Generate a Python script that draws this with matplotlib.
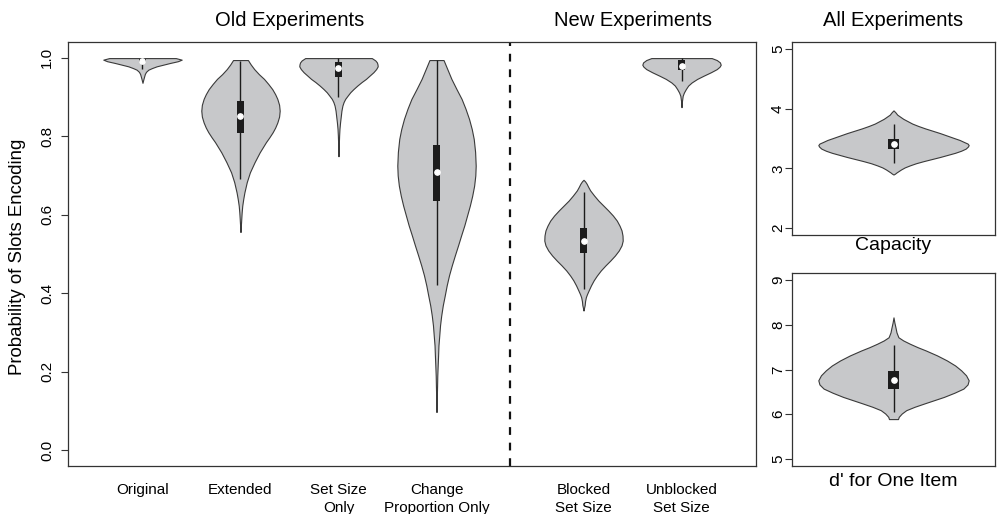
import matplotlib.pyplot as plt
import matplotlib.transforms as mtransforms

plt.rcParams['font.family'] = ['Liberation Sans', 'DejaVu Sans']

# ---- data -------------------------------------------------------------
labels = ['Original', 'Extended', 'Set Size\nOnly', 'Change\nProportion Only',
          'Blocked\nSet Size', 'Unblocked\nSet Size']

# violin outlines: y value and relative half-width (1 = widest)
orig_y = [0.999, 0.995, 0.991, 0.9865, 0.982, 0.978, 0.9735, 0.9695, 0.964, 0.9585, 0.946, 0.936]
orig_w = [0.85, 1.0, 0.90, 0.70, 0.52, 0.36, 0.24, 0.15, 0.09, 0.06, 0.025, 0.0]

ext_y = [0.994, 0.983, 0.971, 0.958, 0.946, 0.933, 0.920, 0.907, 0.895, 0.880, 0.865, 0.850,
         0.835, 0.822, 0.810, 0.797, 0.785, 0.772, 0.759, 0.734, 0.708, 0.683, 0.657,
         0.640, 0.623, 0.606, 0.590, 0.573, 0.556]
ext_w = [0.19, 0.26, 0.35, 0.47, 0.60, 0.71, 0.81, 0.885, 0.94, 0.985, 1.0, 0.985,
         0.94, 0.885, 0.82, 0.735, 0.65, 0.57, 0.49, 0.36, 0.24, 0.16, 0.10,
         0.07, 0.045, 0.03, 0.02, 0.01, 0.0]

ssz_y = [0.999, 0.993, 0.988, 0.983, 0.978, 0.971, 0.963, 0.955, 0.946, 0.938, 0.929,
         0.920, 0.912, 0.903, 0.895, 0.887, 0.878, 0.865, 0.852, 0.835, 0.819,
         0.802, 0.785, 0.767, 0.749]
ssz_w = [0.85, 0.94, 0.98, 0.995, 1.0, 0.96, 0.89, 0.80, 0.70, 0.59, 0.48,
         0.38, 0.30, 0.23, 0.17, 0.13, 0.10, 0.075, 0.06, 0.04, 0.025,
         0.016, 0.01, 0.005, 0.0]

chg_y = [0.994, 0.970, 0.946, 0.920, 0.895, 0.870, 0.844, 0.818, 0.793, 0.760, 0.725,
         0.700, 0.674, 0.648, 0.623, 0.598, 0.573, 0.548, 0.522, 0.497, 0.471,
         0.446, 0.420, 0.394, 0.369, 0.343, 0.318, 0.292, 0.267, 0.240, 0.216,
         0.190, 0.165, 0.130, 0.0975]
chg_w = [0.18, 0.28, 0.38, 0.51, 0.64, 0.74, 0.83, 0.90, 0.95, 0.985, 1.0,
         0.99, 0.96, 0.91, 0.85, 0.78, 0.71, 0.63, 0.55, 0.47, 0.39,
         0.32, 0.26, 0.21, 0.16, 0.12, 0.09, 0.07, 0.05, 0.04, 0.03,
         0.02, 0.015, 0.007, 0.0]

blk_y = [0.689, 0.685, 0.679, 0.671, 0.662, 0.649, 0.636, 0.624, 0.611, 0.598, 0.585,
         0.572, 0.560, 0.547, 0.534, 0.522, 0.509, 0.496, 0.483, 0.471, 0.458,
         0.445, 0.433, 0.420, 0.407, 0.398, 0.390, 0.380, 0.370, 0.362, 0.356]
blk_w = [0.0, 0.04, 0.08, 0.12, 0.17, 0.27, 0.38, 0.50, 0.63, 0.75, 0.85,
         0.92, 0.97, 0.995, 1.0, 0.97, 0.90, 0.80, 0.68, 0.56, 0.44,
         0.34, 0.26, 0.19, 0.13, 0.09, 0.06, 0.04, 0.03, 0.012, 0.0]

unb_y = [0.999, 0.994, 0.988, 0.982, 0.977, 0.971, 0.963, 0.954, 0.946, 0.937, 0.929,
         0.920, 0.911, 0.903, 0.890, 0.874]
unb_w = [0.77, 0.90, 0.98, 1.0, 0.97, 0.90, 0.75, 0.56, 0.40, 0.26, 0.17,
         0.11, 0.06, 0.03, 0.012, 0.0]

# box summaries: lower whisker, q1, median, q3, upper whisker
whisk_lo = [0.971, 0.690, 0.901, 0.420, 0.411, 0.941]
q1 = [0.989, 0.808, 0.952, 0.634, 0.502, 0.969]
medians = [0.992, 0.852, 0.974, 0.710, 0.533, 0.980]
q3 = [0.996, 0.889, 0.988, 0.778, 0.567, 0.995]
whisk_hi = [0.999, 0.992, 0.999, 0.994, 0.657, 0.999]

cap_y = [3.972, 3.94, 3.90, 3.865, 3.83, 3.79, 3.75, 3.71, 3.67, 3.63, 3.59, 3.55,
         3.51, 3.475, 3.44, 3.415, 3.39, 3.365, 3.33, 3.295, 3.26, 3.225, 3.19,
         3.155, 3.12, 3.085, 3.05, 3.015, 2.98, 2.955, 2.93, 2.91, 2.895]
cap_w = [0.0, 0.025, 0.05, 0.09, 0.13, 0.19, 0.25, 0.33, 0.42, 0.52, 0.62, 0.71,
         0.80, 0.88, 0.94, 0.985, 1.0, 0.99, 0.96, 0.90, 0.82, 0.72, 0.62,
         0.51, 0.40, 0.30, 0.22, 0.15, 0.10, 0.07, 0.04, 0.02, 0.0]
cap_box = [3.09, 3.32, 3.40, 3.487, 3.75]

dp_y = [8.167, 8.05, 7.945, 7.83, 7.722, 7.65, 7.575, 7.50, 7.426, 7.315, 7.203,
        7.09, 6.981, 6.87, 6.758, 6.665, 6.573, 6.48, 6.386, 6.313, 6.240,
        6.165, 6.090, 6.015, 5.941, 5.890]
dp_w = [0.0, 0.012, 0.026, 0.04, 0.065, 0.13, 0.22, 0.32, 0.43, 0.58, 0.71,
        0.82, 0.90, 0.965, 1.0, 0.985, 0.93, 0.81, 0.67, 0.54, 0.41,
        0.28, 0.17, 0.11, 0.07, 0.06]
dp_box = [6.05, 6.57, 6.76, 6.97, 7.54]

# ---- style --------------------------------------------------------------
fill_col = '#c7c8ca'
edge_col = '#3a3a3a'
box_col = '#1c1c1c'
frame_col = '#333333'


def draw_violins(ax, ys, ws, pos, boxes, bw):
    stats = []
    for y, w, b in zip(ys, ws, boxes):
        stats.append({'coords': y, 'vals': w, 'mean': b[2], 'median': b[2],
                      'min': min(y), 'max': max(y)})
    parts = ax.violin(stats, positions=pos, widths=0.8, showmeans=False,
                      showextrema=False, showmedians=False)
    for body in parts['bodies']:
        body.set_facecolor(fill_col)
        body.set_edgecolor(edge_col)
        body.set_linewidth(0.8)
        body.set_alpha(1)
        body.set_joinstyle('round')
    for p, b in zip(pos, boxes):
        ax.vlines(p, b[0], b[4], color=box_col, lw=1.0, zorder=3)
        ax.bar(p, b[3] - b[1], bottom=b[1], width=bw, color=box_col, zorder=4)
        ax.plot(p, b[2], 'o', color='white', ms=3.8, mec='white', zorder=5)


def frame(ax):
    for s in ax.spines.values():
        s.set_color(frame_col)
        s.set_linewidth(0.9)
    ax.tick_params(axis='y', length=5, width=0.8, color=frame_col,
                   labelsize=11, labelrotation=90)
    for t in ax.get_yticklabels():
        t.set_va('center')


fig = plt.figure(figsize=(9.97, 5.14), dpi=100)

# main panel
ax = fig.add_axes([68 / 997, 48 / 514, 688 / 997, 424 / 514])
positions = [1, 2, 3, 4, 5.5, 6.5]
boxes = list(zip(whisk_lo, q1, medians, q3, whisk_hi))
draw_violins(ax, [orig_y, ext_y, ssz_y, chg_y, blk_y, unb_y],
             [orig_w, ext_w, ssz_w, chg_w, blk_w, unb_w], positions, boxes, 0.065)
ax.axvline(4.75, color='#111111', lw=1.6, ls=(0, (3.5, 3.5)))
ax.set_xlim(0.24, 7.26)
ax.set_ylim(-0.04, 1.04)
ax.set_yticks([0.0, 0.2, 0.4, 0.6, 0.8, 1.0])
frame(ax)
ax.tick_params(axis='y', pad=5)
ax.set_xticks(positions)
ax.set_xticklabels(labels, fontsize=11, linespacing=1.35)
ax.tick_params(axis='x', length=0, pad=12)
fig.text(18 / 997, 0.501, 'Probability of Slots Encoding', rotation=90,
         ha='center', va='center', fontsize=13.4)
trans = mtransforms.blended_transform_factory(ax.transData, ax.transAxes)
ax.text(2.5, 1 + 21 / 424, 'Old Experiments', transform=trans,
        ha='center', va='center', fontsize=14.5)
ax.text(6.0, 1 + 21 / 424, 'New Experiments', transform=trans,
        ha='center', va='center', fontsize=14.5)

# capacity panel
ax_cap = fig.add_axes([792 / 997, 279 / 514, 203 / 997, 193 / 514])
draw_violins(ax_cap, [cap_y], [cap_w], [1], [cap_box], 0.057)
ax_cap.set_xlim(0.46, 1.54)
ax_cap.set_ylim(1.88, 5.12)
ax_cap.set_yticks([2, 3, 4, 5])
ax_cap.set_xticks([])
frame(ax_cap)
ax_cap.tick_params(axis='y', pad=0)
ax_cap.text(0.5, 1 + 21 / 193, 'All Experiments', transform=ax_cap.transAxes,
            ha='center', va='center', fontsize=14.5)
ax_cap.text(0.5, -10 / 193, 'Capacity', transform=ax_cap.transAxes,
            ha='center', va='center', fontsize=14)

# d' panel
ax_dp = fig.add_axes([792 / 997, 48 / 514, 203 / 997, 193 / 514])
draw_violins(ax_dp, [dp_y], [dp_w], [1], [dp_box], 0.057)
ax_dp.set_xlim(0.46, 1.54)
ax_dp.set_ylim(4.84, 9.16)
ax_dp.set_yticks([5, 6, 7, 8, 9])
ax_dp.set_xticks([])
frame(ax_dp)
ax_dp.tick_params(axis='y', pad=0)
ax_dp.text(0.5, -16 / 193, "d' for One Item", transform=ax_dp.transAxes,
           ha='center', va='center', fontsize=14)

fig.savefig('out.png', dpi=100)
